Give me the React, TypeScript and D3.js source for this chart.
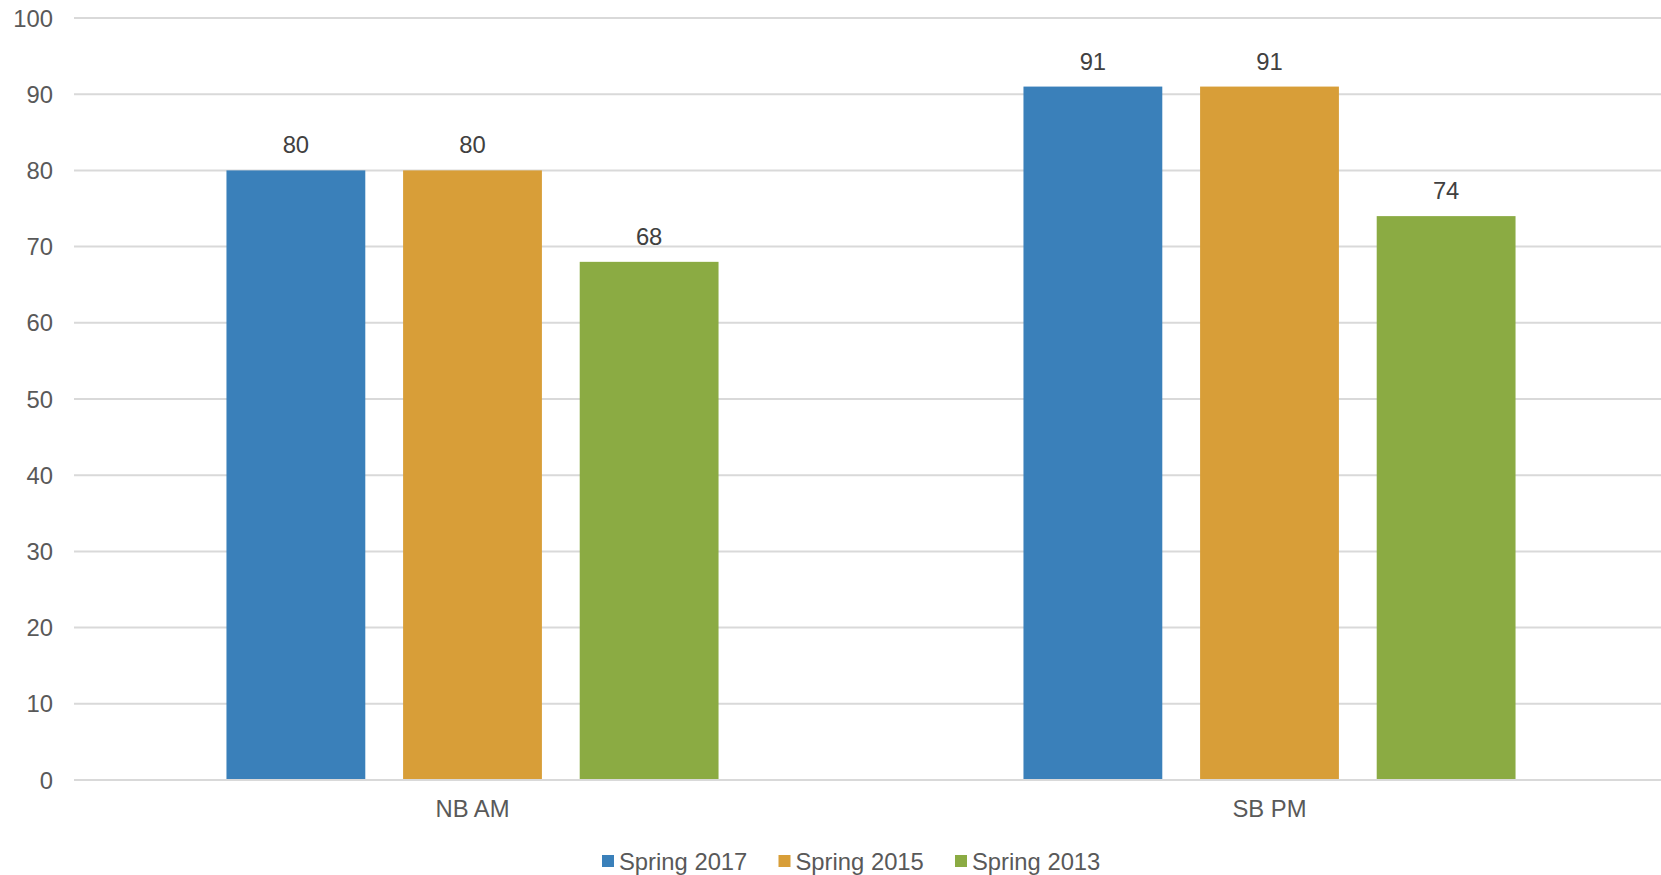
import React from "react";
import * as d3 from "d3";

const categories = ["NB AM", "SB PM"];
const seriesNames = ["Spring 2017", "Spring 2015", "Spring 2013"];
const spring2017 = [80, 91];
const spring2015 = [80, 91];
const spring2013 = [68, 74];
const yTicks = [0, 10, 20, 30, 40, 50, 60, 70, 80, 90, 100];

const seriesValues = [spring2017, spring2015, spring2013];
const colors = ["#3a80ba", "#d89e38", "#8bab43"];

const W = 1661;
const H = 875;
const plotLeft = 74;
const plotRight = 1668;
const plotTop = 18;
const plotBottom = 780;
const FONT = "Liberation Sans, Arial, sans-serif";
const FS = 23.8;

export default function App() {
  const x = d3.scaleBand<string>().domain(categories).range([plotLeft, plotRight]);
  const bw = x.bandwidth();
  const outer = bw * 0.1913;
  const xs = d3
    .scaleBand<string>()
    .domain(seriesNames)
    .range([outer, bw - outer])
    .paddingInner(0.214)
    .paddingOuter(0);
  const y = d3.scaleLinear().domain([0, 100]).range([plotBottom, plotTop]);

  const legendStep = 176.5;
  const legendX0 = 602;
  const legendY = 861;

  return (
    <svg
      width={W}
      height={H}
      style={{ position: "absolute", left: 0, top: 0, background: "#fff" }}
      fontFamily={FONT}
    >
      {yTicks.map((t) => (
        <g key={t}>
          <line
            x1={plotLeft}
            x2={W}
            y1={y(t)}
            y2={y(t)}
            stroke="#d9d9d9"
            strokeWidth={2}
          />
          <text
            x={53}
            y={y(t)}
            dy="0.36em"
            textAnchor="end"
            fontSize={FS}
            fill="#595959"
          >
            {t}
          </text>
        </g>
      ))}

      {categories.map((c, ci) => (
        <g key={c} transform={`translate(${x(c)},0)`}>
          {seriesNames.map((s, si) => {
            const v = seriesValues[si][ci];
            const bx = xs(s)!;
            return (
              <g key={s}>
                <rect
                  x={bx}
                  y={y(v)}
                  width={xs.bandwidth()}
                  height={y(0) - y(v)}
                  fill={colors[si]}
                />
                <text
                  x={bx + xs.bandwidth() / 2}
                  y={y(v) - 17}
                  textAnchor="middle"
                  fontSize={FS}
                  fill="#404040"
                >
                  {v}
                </text>
              </g>
            );
          })}
          <text
            x={bw / 2}
            y={816.5}
            textAnchor="middle"
            fontSize={FS}
            fill="#595959"
          >
            {c}
          </text>
        </g>
      ))}

      <line
        x1={plotLeft}
        x2={W}
        y1={y(0)}
        y2={y(0)}
        stroke="#d9d9d9"
        strokeWidth={2}
      />

      {seriesNames.map((s, i) => (
        <g key={s} transform={`translate(${legendX0 + i * legendStep},${legendY})`}>
          <rect x={0} y={-6} width={12} height={12} fill={colors[i]} />
          <text x={17} y={0} dy="0.36em" fontSize={FS} fill="#595959">
            {s}
          </text>
        </g>
      ))}
    </svg>
  );
}
